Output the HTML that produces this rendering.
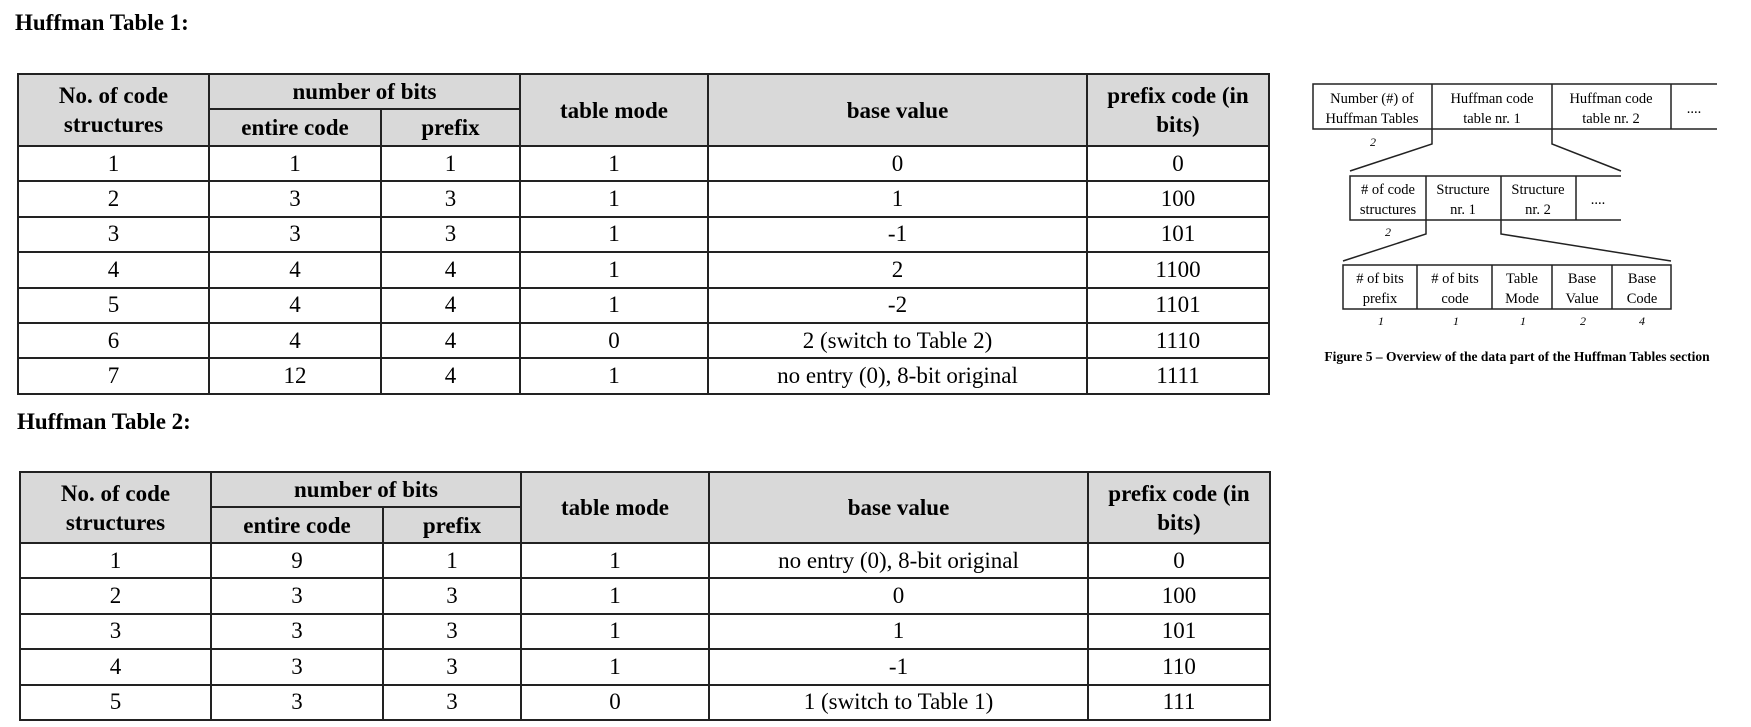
<!DOCTYPE html>
<html><head><meta charset="utf-8"><style>
body{margin:0;width:1751px;height:727px;background:#fff;position:relative;overflow:hidden;font-family:"Liberation Serif",serif;color:#000}
.t{position:absolute;font-weight:bold;font-size:23px}
table{position:absolute;border-collapse:collapse;table-layout:fixed;font-size:23px}
td{border:2px solid #222;text-align:center;padding:0;height:33.4px;line-height:24px}
th{border:2px solid #222;background:#d9d9d9;font-weight:bold;padding:0;line-height:29px}
</style></head><body>
<div class="t" style="left:15px;top:10px">Huffman Table 1:</div>
<div class="t" style="left:17px;top:409px">Huffman Table 2:</div>

<table style="left:17px;top:73px;width:1251px">
<colgroup><col style="width:191px"><col style="width:172px"><col style="width:139px"><col style="width:188px"><col style="width:379px"><col style="width:182px"></colgroup>
<tr style="height:35px"><th rowspan="2">No. of code<br>structures</th><th colspan="2">number of bits</th><th rowspan="2">table mode</th><th rowspan="2">base value</th><th rowspan="2">prefix code (in<br>bits)</th></tr>
<tr style="height:37px"><th>entire code</th><th>prefix</th></tr>
<tr><td>1</td><td>1</td><td>1</td><td>1</td><td>0</td><td>0</td></tr>
<tr><td>2</td><td>3</td><td>3</td><td>1</td><td>1</td><td>100</td></tr>
<tr><td>3</td><td>3</td><td>3</td><td>1</td><td>-1</td><td>101</td></tr>
<tr><td>4</td><td>4</td><td>4</td><td>1</td><td>2</td><td>1100</td></tr>
<tr><td>5</td><td>4</td><td>4</td><td>1</td><td>-2</td><td>1101</td></tr>
<tr><td>6</td><td>4</td><td>4</td><td>0</td><td>2 (switch to Table 2)</td><td>1110</td></tr>
<tr><td>7</td><td>12</td><td>4</td><td>1</td><td>no entry (0), 8-bit original</td><td>1111</td></tr>
</table>

<table style="left:19px;top:471px;width:1250px">
<colgroup><col style="width:191px"><col style="width:172px"><col style="width:138px"><col style="width:188px"><col style="width:379px"><col style="width:182px"></colgroup>
<tr style="height:35px"><th rowspan="2">No. of code<br>structures</th><th colspan="2">number of bits</th><th rowspan="2">table mode</th><th rowspan="2">base value</th><th rowspan="2">prefix code (in<br>bits)</th></tr>
<tr style="height:36px"><th>entire code</th><th>prefix</th></tr>
<tr><td>1</td><td>9</td><td>1</td><td>1</td><td>no entry (0), 8-bit original</td><td>0</td></tr>
<tr><td>2</td><td>3</td><td>3</td><td>1</td><td>0</td><td>100</td></tr>
<tr><td>3</td><td>3</td><td>3</td><td>1</td><td>1</td><td>101</td></tr>
<tr><td>4</td><td>3</td><td>3</td><td>1</td><td>-1</td><td>110</td></tr>
<tr><td>5</td><td>3</td><td>3</td><td>0</td><td>1 (switch to Table 1)</td><td>111</td></tr>
</table>

<svg style="position:absolute;left:0;top:0" width="1751" height="727" font-family="Liberation Serif, serif" font-size="14.5" text-anchor="middle">
<g fill="none" stroke="#222" stroke-width="1.5">
<path d="M1717 84H1313V129H1717M1432 84V144L1350 171M1552 84V144L1621 171M1671 84V129"/>
<path d="M1621 176H1350V220H1621M1426 176V234L1343 261M1501 176V234L1671 261M1576 176V220"/>
<rect x="1343" y="265" width="328" height="44"/>
<path d="M1417 265V309M1492 265V309M1552 265V309M1612 265V309"/>
</g>
<text x="1372" y="103">Number (#) of</text><text x="1372" y="123">Huffman Tables</text>
<text x="1492" y="103">Huffman code</text><text x="1492" y="123">table nr. 1</text>
<text x="1611" y="103">Huffman code</text><text x="1611" y="123">table nr. 2</text>
<text x="1694" y="113">....</text>
<text x="1373" y="146" font-style="italic" font-size="12">2</text>
<text x="1388" y="194"># of code</text><text x="1388" y="214">structures</text>
<text x="1463" y="194">Structure</text><text x="1463" y="214">nr. 1</text>
<text x="1538" y="194">Structure</text><text x="1538" y="214">nr. 2</text>
<text x="1598" y="204">....</text>
<text x="1388" y="236" font-style="italic" font-size="12">2</text>
<text x="1380" y="283"># of bits</text><text x="1380" y="303">prefix</text>
<text x="1455" y="283"># of bits</text><text x="1455" y="303">code</text>
<text x="1522" y="283">Table</text><text x="1522" y="303">Mode</text>
<text x="1582" y="283">Base</text><text x="1582" y="303">Value</text>
<text x="1642" y="283">Base</text><text x="1642" y="303">Code</text>
<g font-style="italic" font-size="12">
<text x="1381" y="325">1</text><text x="1456" y="325">1</text><text x="1523" y="325">1</text><text x="1583" y="325">2</text><text x="1642" y="325">4</text>
</g>
<text x="1517" y="361" font-weight="bold" font-size="13.5">Figure 5 – Overview of the data part of the Huffman Tables section</text>
</svg>
</body></html>
